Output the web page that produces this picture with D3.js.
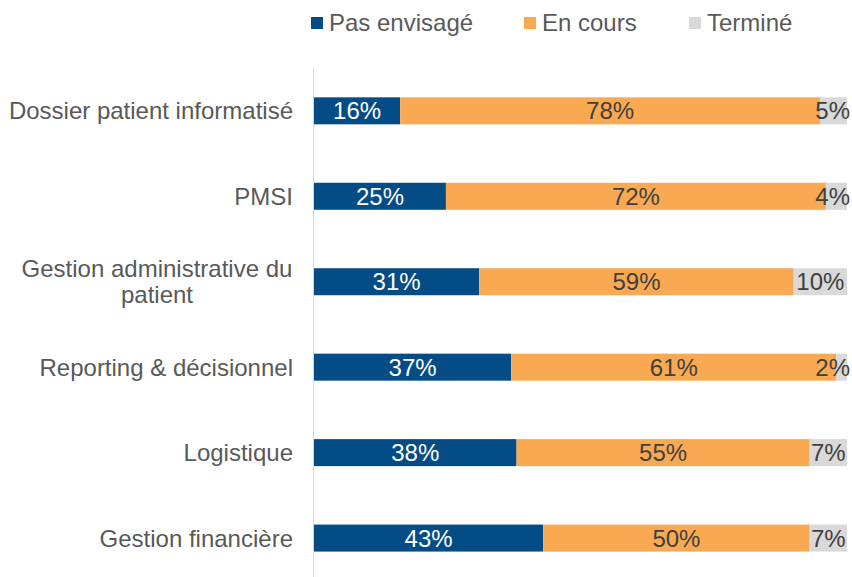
<!DOCTYPE html>
<html>
<head>
<meta charset="utf-8">
<script src="https://cdn.jsdelivr.net/npm/d3@7"></script>
<style>
  body { margin: 0; background: #fff; }
  text { font-family: "Liberation Sans", Arial, sans-serif; }
</style>
</head>
<body>
<div id="chart"></div>
<script>
const categories = ["Dossier patient informatisé", "PMSI", "Gestion administrative du patient",
  "Reporting & décisionnel", "Logistique", "Gestion financière"];
const seriesNames = ["Pas envisagé", "En cours", "Terminé"];
const pasEnvisage = [16, 25, 31, 37, 38, 43];
const enCours = [78, 72, 59, 61, 55, 50];
const termine = [5, 4, 10, 2, 7, 7];

const colors = ["#034C86", "#F9A952", "#D9D9D9"];
const labelColors = ["#ffffff", "#404040", "#404040"];

const width = 852, height = 577;
const plotLeft = 314, plotRight = 847;
const fontSize = "24px";

const rows = categories.map((c, i) => ({
  cat: c, "Pas envisagé": pasEnvisage[i], "En cours": enCours[i], "Terminé": termine[i]
}));

const stacked = d3.stack().keys(seriesNames).offset(d3.stackOffsetExpand)(rows);

const x = d3.scaleLinear().domain([0, 1]).range([plotLeft, plotRight]);
const y = d3.scaleBand().domain(categories).range([54.6, 594.3])
  .paddingInner(0.684).paddingOuter(0.5);

const svg = d3.select("#chart").append("svg")
  .attr("width", width)
  .attr("height", height);

// axis line
svg.append("line")
  .attr("x1", plotLeft - 0.5).attr("x2", plotLeft - 0.5)
  .attr("y1", 68).attr("y2", height)
  .attr("stroke", "#d9d9d9").attr("stroke-width", 1);

const groups = svg.selectAll(".series")
  .data(stacked)
  .join("g")
  .attr("class", "series")
  .attr("fill", (d, i) => colors[i]);

groups.selectAll("rect")
  .data(d => d)
  .join("rect")
  .attr("x", d => x(d[0]))
  .attr("width", d => x(d[1]) - x(d[0]))
  .attr("y", d => y(d.data.cat))
  .attr("height", y.bandwidth());

groups.selectAll(".val")
  .data((d, si) => d.map(v => ({ v, si, key: d.key })))
  .join("text")
  .attr("class", "val")
  .attr("y", d => y(d.v.data.cat) + y.bandwidth() / 2)
  .attr("dy", "0.36em")
  .attr("text-anchor", "middle")
  .attr("font-size", fontSize)
  .attr("fill", d => labelColors[d.si])
  .text(d => d.v.data[d.key] + "%")
  .attr("x", function (d) {
    const cx = (x(d.v[0]) + x(d.v[1])) / 2;
    const half = this.getComputedTextLength() / 2;
    return Math.min(cx, width - 2 - half);
  });

// category labels
const catLabels = {
  "Gestion administrative du patient": ["Gestion administrative du", "patient"]
};
svg.selectAll(".cat")
  .data(categories)
  .join("text")
  .attr("class", "cat")
  .attr("text-anchor", d => catLabels[d] ? "middle" : "end")
  .attr("font-size", fontSize)
  .attr("fill", "#595959")
  .each(function (c) {
    const lines = catLabels[c] || [c];
    const t = d3.select(this);
    const cy = y(c) + y.bandwidth() / 2;
    const lh = 26;
    lines.forEach((l, i) => {
      t.append("tspan")
        .attr("x", catLabels[c] ? 157 : 293)
        .attr("y", cy + (i - (lines.length - 1) / 2) * lh)
        .attr("dy", "0.36em")
        .text(l);
    });
  });

// legend
const legendX = [311, 524, 689];
const legend = svg.selectAll(".legend")
  .data(seriesNames)
  .join("g")
  .attr("class", "legend")
  .attr("transform", (d, i) => `translate(${legendX[i]}, 22)`);
legend.append("rect")
  .attr("x", 0).attr("y", -5)
  .attr("width", 12).attr("height", 12)
  .attr("fill", (d, i) => colors[i]);
legend.append("text")
  .attr("x", 18)
  .attr("dy", "0.36em")
  .attr("font-size", fontSize)
  .attr("fill", "#595959")
  .text(d => d);
</script>
</body>
</html>
